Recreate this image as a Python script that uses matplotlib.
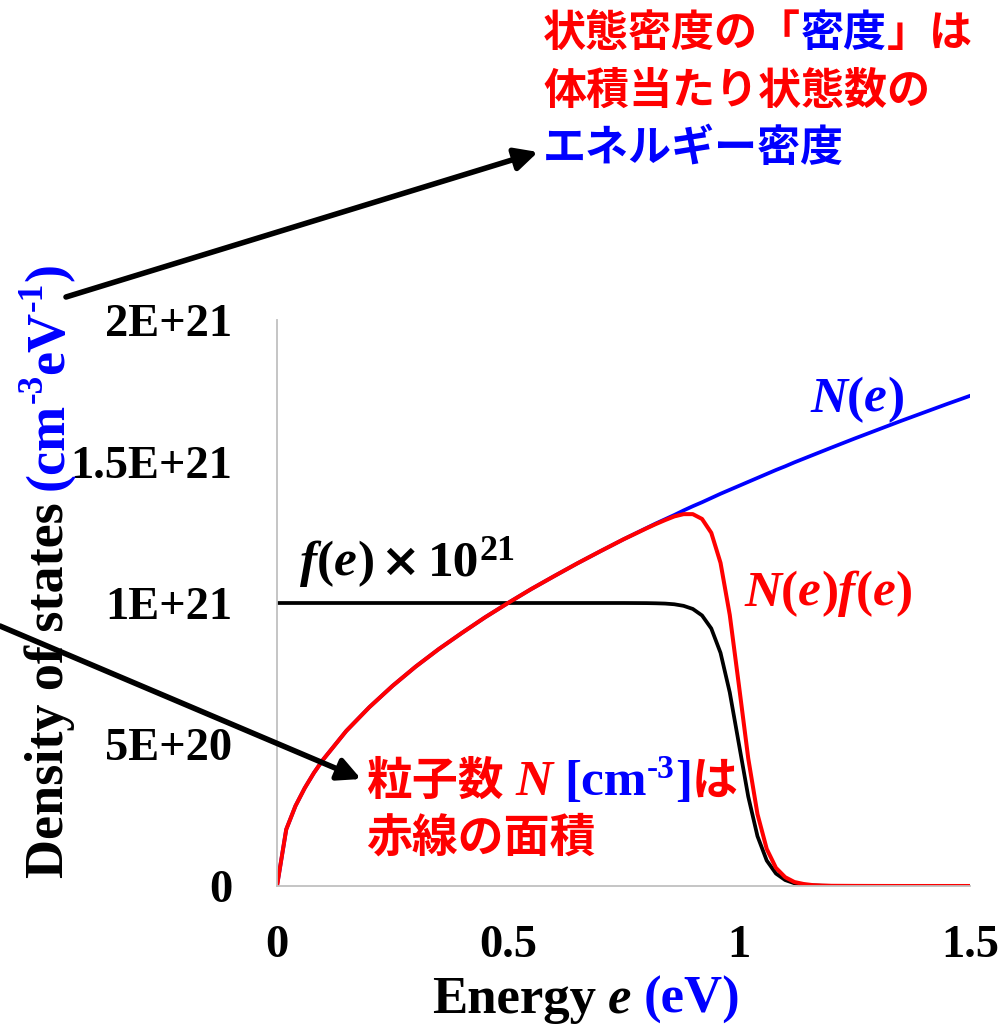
import matplotlib
matplotlib.use("Agg")
import matplotlib.pyplot as plt
from matplotlib.patches import FancyArrowPatch

# ---------------- data (values in units of 1e21) ----------------
energy = [0, 0.02, 0.04, 0.06, 0.08, 0.10, 0.15, 0.20, 0.25, 0.30, 0.35, 0.40,
          0.45, 0.50, 0.55, 0.60, 0.65, 0.70, 0.75, 0.80, 0.82, 0.84, 0.86,
          0.88, 0.90, 0.92, 0.94, 0.96, 0.98, 1.00, 1.02, 1.04, 1.06, 1.08,
          1.10, 1.12, 1.14, 1.16, 1.18, 1.20, 1.25, 1.30, 1.35, 1.40, 1.45, 1.50]
dos = [0, 0.200, 0.283, 0.346, 0.400, 0.447, 0.548, 0.632, 0.707, 0.775, 0.837,
       0.894, 0.949, 1.000, 1.049, 1.095, 1.140, 1.183, 1.225, 1.265, 1.281,
       1.296, 1.311, 1.327, 1.342, 1.356, 1.371, 1.386, 1.400, 1.414, 1.428,
       1.442, 1.456, 1.470, 1.483, 1.497, 1.510, 1.523, 1.536, 1.549, 1.581,
       1.612, 1.643, 1.673, 1.703, 1.732]
fermi = [1.0, 1.0, 1.0, 1.0, 1.0, 1.0, 1.0, 1.0, 1.0, 1.0, 1.0, 1.0, 1.0, 1.0,
         1.0, 1.0, 1.0, 1.0, 1.0, 0.9996, 0.999, 0.998, 0.9955, 0.990, 0.979,
         0.956, 0.910, 0.824, 0.684, 0.500, 0.316, 0.176, 0.090, 0.044, 0.021,
         0.0096, 0.0045, 0.0021, 0.001, 0.0004, 0.0001, 0, 0, 0, 0, 0]
occupied = [0, 0.200, 0.283, 0.346, 0.400, 0.447, 0.548, 0.632, 0.707, 0.775,
            0.837, 0.894, 0.949, 1.000, 1.049, 1.095, 1.140, 1.183, 1.225,
            1.264, 1.279, 1.293, 1.306, 1.314, 1.314, 1.297, 1.248, 1.142,
            0.958, 0.707, 0.451, 0.254, 0.131, 0.064, 0.031, 0.014, 0.007,
            0.003, 0.0015, 0.0007, 0.0003, 0.0001, 0, 0, 0, 0]
x_ticks = [0, 0.5, 1, 1.5]
x_ticklabels = ["0", "0.5", "1", "1.5"]
y_ticks = [0, 0.5, 1.0, 1.5, 2.0]
y_ticklabels = ["0", "5E+20", "1E+21", "1.5E+21", "2E+21"]

W, H = 1007, 1024
RED, BLUE, BLACK = "#ff0000", "#0000ff", "#000000"
SERIF = "Liberation Serif"
CJK = "Noto Sans CJK JP"

fig = plt.figure(figsize=(W / 100, H / 100), dpi=100)
ax = fig.add_axes([277 / W, 1 - 886 / H, (970 - 277) / W, (886 - 320) / H])

ax.plot(energy, dos, color=BLUE, lw=2.7, solid_joinstyle="round")
ax.plot(energy, fermi, color=BLACK, lw=2.7, solid_joinstyle="round")
ax.plot(energy, occupied, color=RED, lw=2.9, solid_joinstyle="round")

ax.set_xlim(0, 1.5)
ax.set_ylim(0, 2.0)
for s in ("top", "right"):
    ax.spines[s].set_visible(False)
for s in ("left", "bottom"):
    ax.spines[s].set_color("#c0c0c0")
    ax.spines[s].set_linewidth(1.3)
ax.set_xticks(x_ticks)
ax.set_xticklabels(x_ticklabels, fontfamily=SERIF, fontweight="bold", fontsize=33.5)
ax.set_yticks(y_ticks)
ax.set_yticklabels(y_ticklabels, fontfamily=SERIF, fontweight="bold", fontsize=33.5)
ax.tick_params(axis="x", length=0, pad=28)
ax.tick_params(axis="y", length=0, pad=32)

renderer = fig.canvas.get_renderer()


def measure(text, props, rotation=0):
    t = fig.text(0, 0, text, rotation=rotation, rotation_mode="anchor",
                 ha="left", va="baseline", **props)
    ext = t.get_window_extent(renderer)
    t.remove()
    return ext.height if rotation == 90 else ext.width


def rich(x, y, pieces, rotation=0):
    """pieces: (text, props, rise_px, gap_px). x,y pixel coords from top-left, baseline."""
    cur = x if rotation == 0 else y
    for text, props, rise, gap in pieces:
        cur += gap if rotation == 0 else -gap
        if rotation == 0:
            fig.text(cur / W, 1 - (y - rise) / H, text, ha="left", va="baseline", **props)
            cur += measure(text, props)
        else:
            fig.text((x - rise) / W, 1 - cur / H, text, rotation=90,
                     rotation_mode="anchor", ha="left", va="baseline", **props)
            cur -= measure(text, props, rotation=90)


def sp(size, color, style="normal", family=SERIF):
    return dict(fontfamily=family, fontweight="bold", fontsize=size,
                color=color, fontstyle=style)


# axis labels
rich(432, 1013, [
    ("Energy", sp(38, BLACK), 0, 0),
    ("e", sp(38, BLACK, "italic"), 0, 12),
    ("(eV)", sp(38, BLUE), 0, 12),
])
YS = 39
rich(63, 878, [
    ("Density of states", sp(YS, BLACK), 0, 0),
    ("(cm", sp(YS, BLUE), 0, 12),
    ("-3", sp(YS * 0.65, BLUE), 21, 0),
    ("eV", sp(YS, BLUE), 0, 0),
    ("-1", sp(YS * 0.65, BLUE), 21, 0),
    (")", sp(YS, BLUE), 0, 0),
], rotation=90)

# curve labels
CS = 37
rich(810, 412, [
    ("N", sp(CS, BLUE, "italic"), 0, 0),
    ("(", sp(CS, BLUE), 0, 0),
    ("e", sp(CS, BLUE, "italic"), 0, 0),
    (")", sp(CS, BLUE), 0, 0),
])
rich(744, 606, [
    ("N", sp(CS, RED, "italic"), 0, 0),
    ("(", sp(CS, RED), 0, 0),
    ("e", sp(CS, RED, "italic"), 0, 0),
    (")", sp(CS, RED), 0, 0),
    ("f", sp(CS, RED, "italic"), 0, 0),
    ("(", sp(CS, RED), 0, 0),
    ("e", sp(CS, RED, "italic"), 0, 0),
    (")", sp(CS, RED), 0, 0),
])
rich(300, 576, [
    ("f", sp(CS, BLACK, "italic"), 0, 0),
    ("(", sp(CS, BLACK), 0, 0),
    ("e", sp(CS, BLACK, "italic"), 0, 0),
    (")", sp(CS, BLACK), 0, 0),
    ("×", sp(34, BLACK, family="DejaVu Sans"), 0, 6),
    ("10", sp(CS, BLACK), 0, 8),
    ("21", sp(CS * 0.7, BLACK), 16, 0),
])

# Japanese annotations (top right)
JS = 31
rich(543, 46, [
    ("状態密度の「", sp(JS, RED, family=CJK), 0, 0),
    ("密度", sp(JS, BLUE, family=CJK), 0, 0),
    ("」は", sp(JS, RED, family=CJK), 0, 0),
])
rich(543, 104, [("体積当たり状態数の", sp(JS, RED, family=CJK), 0, 0)])
rich(543, 161, [("エネルギー密度", sp(JS, BLUE, family=CJK), 0, 0)])

# Japanese annotation (bottom)
BS = 33
rich(366, 795, [
    ("粒子数", sp(BS, RED, family=CJK), 0, 0),
    ("N", sp(CS, RED, "italic"), 0, 12),
    ("[cm", sp(CS, BLUE), 0, 12),
    ("-3", sp(CS * 0.65, BLUE), 17, 0),
    ("]", sp(CS, BLUE), 0, 0),
    ("は", sp(BS, RED, family=CJK), 0, 0),
])
rich(366, 852, [("赤線の面積", sp(BS, RED, family=CJK), 0, 0)])

# arrows (figure pixel coords)
def arrow(p0, p1):
    a = FancyArrowPatch((p0[0] / W, 1 - p0[1] / H), (p1[0] / W, 1 - p1[1] / H),
                        transform=fig.transFigure, arrowstyle="-|>",
                        mutation_scale=34, lw=4, color=BLACK,
                        shrinkA=0, shrinkB=0)
    fig.patches.append(a)

arrow((66, 297), (538, 152))
arrow((0, 626), (361, 779))

fig.savefig("out.png", dpi=100)
